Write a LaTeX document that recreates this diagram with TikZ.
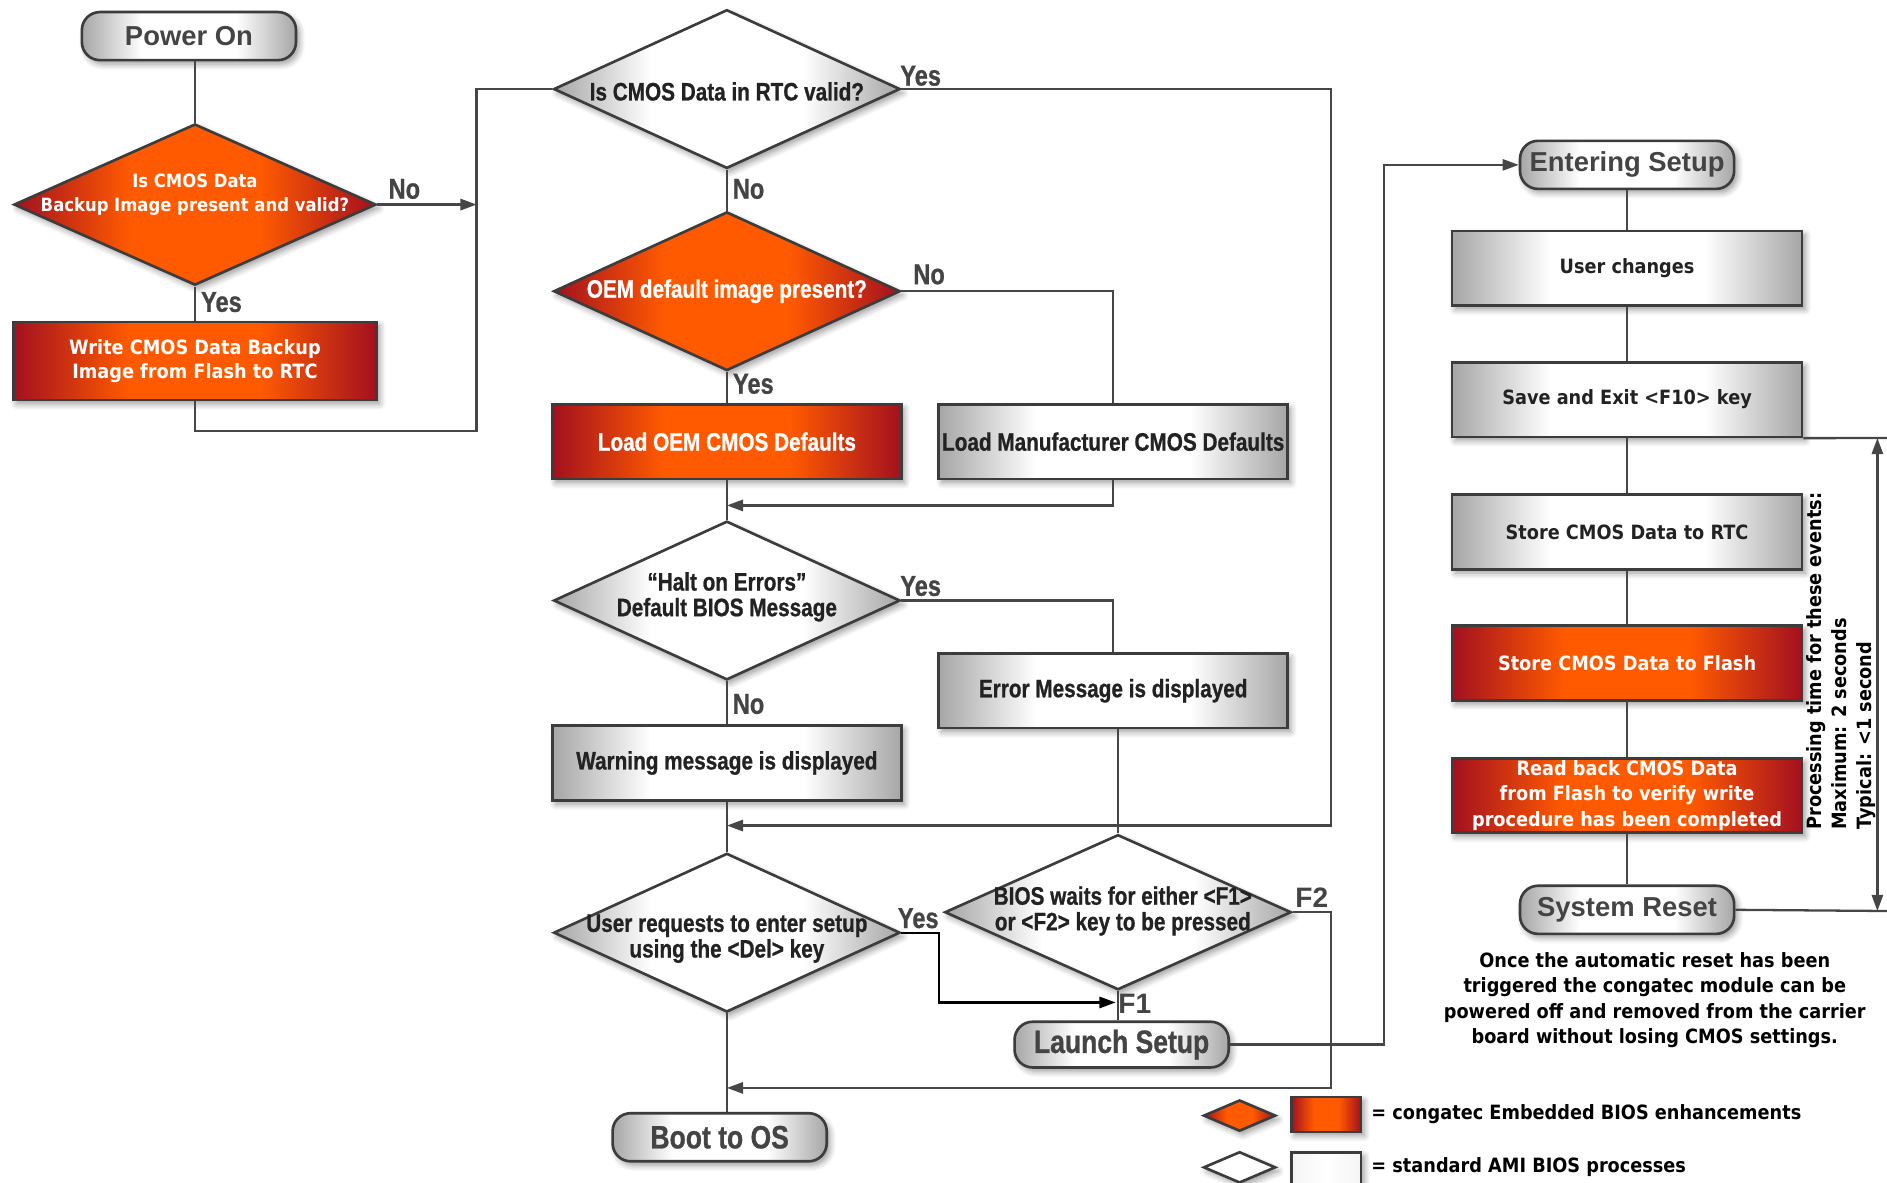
\documentclass[tikz,border=0pt]{standalone}
\usepackage{fontspec}
\newfontfamily\boxfont{DejaVu Sans}[FakeStretch=0.9]
\newfontfamily\narrowfont{Liberation Sans}[FakeStretch=0.82,FakeBold=0.8]
\newfontfamily\termfont{Liberation Sans}
\usetikzlibrary{shapes.geometric,shadows.blur,arrows.meta}
\definecolor{cmosred}{HTML}{A3101F}
\definecolor{cmosorange}{HTML}{FF5A00}
\definecolor{linegray}{HTML}{464646}
\definecolor{bordergray}{HTML}{3C3C3C}
\definecolor{boxgray}{HTML}{A6A6A6}
\definecolor{textgray}{HTML}{222222}
\definecolor{labgray}{HTML}{444444}
\pgfdeclarehorizontalshading{redglow}{100bp}{color(0bp)=(cmosred); color(25bp)=(cmosred);
  color(41bp)=(cmosorange); color(59bp)=(cmosorange); color(75bp)=(cmosred); color(100bp)=(cmosred)}
\pgfdeclarehorizontalshading{grayglow}{100bp}{color(0bp)=(boxgray); color(25bp)=(boxgray);
  color(39bp)=(white); color(61bp)=(white); color(75bp)=(boxgray); color(100bp)=(boxgray)}

\begin{document}
\begin{tikzpicture}[x=0.012034cm,y=-0.012034cm,
  shadowed/.style={blur shadow={shadow blur steps=6,shadow xshift=0.9pt,shadow yshift=-1.1pt,shadow opacity=40}},
  outline/.style={draw=bordergray,line width=0.75pt,shadowed},
  redbox/.style={outline,rectangle,shade,shading=redglow,text=white,align=center,inner sep=0pt},
  graybox/.style={outline,rectangle,shade,shading=grayglow,text=textgray,align=center,inner sep=0pt},
  reddia/.style={outline,diamond,inner sep=0pt,shade,shading=redglow},
  graydia/.style={outline,diamond,inner sep=0pt,shade,shading=grayglow},
  termbox/.style={outline,rectangle,rounded corners=0.18cm,shade,shading=grayglow,
    text=labgray,inner sep=0pt,minimum width=2.142cm,minimum height=0.481cm},
  midbox/.style={minimum width=3.49cm,minimum height=0.746cm,font=\narrowfont\bfseries\fontsize{7.2}{8.6}\selectfont},
  rightbox/.style={minimum width=3.502cm,minimum height=0.746cm,font=\boxfont\bfseries\fontsize{5.6}{7.2}\selectfont},
  middia/.style={minimum width=3.466cm,minimum height=1.588cm},
  midtxt/.style={align=center,inner sep=0pt,font=\narrowfont\bfseries\fontsize{7.2}{7.3}\selectfont},
  conn/.style={draw=linegray,line width=0.65pt},
  flow/.style={conn,-{Triangle[length=4.6pt,width=3.2pt]}},
  yn/.style={text=labgray,inner sep=0pt,font=\narrowfont\bfseries\fontsize{8.2}{9}\selectfont},
  fkey/.style={text=labgray,inner sep=0pt,font=\termfont\bfseries\fontsize{8}{9}\selectfont},
  plain/.style={text=textgray,inner sep=0pt,font=\boxfont\bfseries\fontsize{5.6}{7.2}\selectfont}]
  \useasboundingbox (0,0) rectangle (1568,983);

  % left column
  \node[termbox,font=\termfont\bfseries\fontsize{7.8}{9}\selectfont] (pw) at (157,30) {Power On};
  \node[reddia,minimum width=3.622cm,minimum height=1.613cm] (d1) at (162,170) {};
  \node[align=center,text=white,inner sep=0pt,font=\boxfont\bfseries\fontsize{5.2}{6.9}\selectfont]
    (t1) at (162,162) {Is CMOS Data\\Backup Image present and valid?};
  \node[redbox,minimum width=3.634cm,minimum height=0.782cm,font=\boxfont\bfseries\fontsize{5.6}{6.9}\selectfont]
    (wr) at (162,300) {Write CMOS Data Backup\\Image from Flash to RTC};

  % middle column
  \node[graydia,middia] (d2) at (604,74) {};
  \node[midtxt,text=textgray] (t2) at (604,76) {Is CMOS Data in RTC valid?};
  \node[reddia,middia] (d3) at (604,242) {};
  \node[midtxt,text=white] (t3) at (604,242) {OEM default image present?};
  \node[redbox,midbox] (oem) at (604,367) {Load OEM CMOS Defaults};
  \node[graybox,midbox] (man) at (925,367) {Load Manufacturer CMOS Defaults};
  \node[graydia,middia] (d4) at (604,499) {};
  \node[midtxt,text=textgray] (t4) at (604,496) {“Halt on Errors”\\Default BIOS Message};
  \node[graybox,midbox] (err) at (925,574) {Error Message is displayed};
  \node[graybox,midbox] (warn) at (604,634) {Warning message is displayed};
  \node[graydia,middia] (d5) at (604,775) {};
  \node[midtxt,text=textgray] (t5) at (604,780) {User requests to enter setup\\using the <Del> key};
  \node[graydia,minimum width=3.466cm,minimum height=1.552cm] (d6) at (929,758) {};
  \node[midtxt,text=textgray] (t6) at (933,757) {BIOS waits for either <F1>\\or <F2> key to be pressed};
  \node[termbox,font=\narrowfont\bfseries\fontsize{9.2}{10}\selectfont,minimum height=0.457cm] (ls) at (932,868) {Launch Setup};
  \node[termbox,font=\narrowfont\bfseries\fontsize{9.2}{10}\selectfont] (boot) at (598,945) {Boot to OS};

  % right column
  \node[termbox,font=\termfont\bfseries\fontsize{7.8}{9}\selectfont] (es) at (1352,137) {Entering Setup};
  \node[graybox,rightbox] (uc) at (1352,223) {User changes};
  \node[graybox,rightbox] (se) at (1352,332) {Save and Exit <F10> key};
  \node[graybox,rightbox] (sr) at (1352,442) {Store CMOS Data to RTC};
  \node[redbox,rightbox] (sf) at (1352,551) {Store CMOS Data to Flash};
  \node[redbox,rightbox] (rb) at (1352,661) {Read back CMOS Data\\from Flash to verify write\\procedure has been completed};
  \node[termbox,font=\termfont\bfseries\fontsize{7.8}{9}\selectfont] (rs) at (1352,756) {System Reset};
  \node[plain,rotate=90,anchor=west,align=left,text=black] (ptime) at (1530,690)
    {Processing time for these events:\\Maximum: 2 seconds\\Typical: <1 second};
  \node[plain,align=center,text=black] (note) at (1375,831)
    {Once the automatic reset has been\\triggered the congatec module can be\\powered off and removed from the carrier\\board without losing CMOS settings.};

  % legend
  \node[reddia,minimum width=0.722cm,minimum height=0.313cm] (ld1) at (1030,927) {};
  \node[redbox,minimum width=0.698cm,minimum height=0.349cm] (lr1) at (1102,926) {};
  \node[plain,anchor=west,text=black] (lt1) at (1139,926) {= congatec Embedded BIOS enhancements};
  \node[outline,diamond,fill=white,inner sep=0pt,minimum width=0.722cm,minimum height=0.313cm] (ld2) at (1030,970) {};
  \node[outline,rectangle,left color=white!88!boxgray,right color=white!88!boxgray,middle color=white,
    inner sep=0pt,minimum width=0.698cm,minimum height=0.349cm] (lr2) at (1102,972) {};
  \node[plain,anchor=west,text=black] (lt2) at (1139,970) {= standard AMI BIOS processes};

  % branch labels
  \node[yn] (n1) at (336,157) {No};
  \node[yn] (y1) at (184,251) {Yes};
  \node[yn] (y2) at (765,63) {Yes};
  \node[yn] (n2) at (622,157) {No};
  \node[yn] (n3) at (772,228) {No};
  \node[yn] (y3) at (626,319) {Yes};
  \node[yn] (y4) at (765,487) {Yes};
  \node[yn] (n4) at (622,585) {No};
  \node[yn] (y5) at (763,763) {Yes};
  \node[fkey] (f2) at (1090,746) {F2};
  \node[fkey] (f1) at (943,834) {F1};

  % connector points
  \coordinate (nojoin) at (396,170);
  \coordinate (lowleft) at (396,358);
  \coordinate (rtcyes) at (1106,686);
  \coordinate (m1) at (604,420);
  \coordinate (m2) at (604,686);
  \coordinate (m3) at (604,904);
  \coordinate (f2down) at (1106,904);
  \coordinate (delyes) at (780,833);
  \coordinate (f1join) at (927,833);
  \coordinate (setupup) at (1150,137);
  \coordinate (dimtop) at (1568,364);
  \coordinate (dimbot) at (1568,757);
  \coordinate (arrtop) at (1560,364);
  \coordinate (arrbot) at (1560,757);

  % connectors, left
  \draw[conn] (d1.north |- pw.south) -- (d1.north);
  \draw[conn] (d1.south) -- (wr.north);
  \draw[flow] (d1.east) -- (nojoin);
  \draw[conn] (wr.south) |- (lowleft) |- (d2.west);

  % connectors, middle
  \draw[conn] (d2.south) -- (d3.north);
  \draw[flow] (d2.east) -| (rtcyes) -- (m2);
  \draw[conn] (d3.south) -- (oem.north);
  \draw[conn] (d3.east) -| (man.north);
  \draw[conn] (oem.south) -- (d4.north);
  \draw[flow] (man.south) |- (m1);
  \draw[conn] (d4.south) -- (warn.north);
  \draw[conn] (d4.east) -| (err.north);
  \draw[conn] (warn.south) -- (d5.north);
  \draw[conn] (err.south -| d6.north) -- (d6.north);
  \draw[flow,draw=black] (d5.east) -| (delyes) -- (f1join);
  \draw[conn] (d6.south) -- (d6.south |- ls.north);
  \draw[flow] (d6.east) -| (f2down) -- (m3);
  \draw[conn] (d5.south) -- (d5.south |- boot.north);
  \draw[flow] (ls.east) -| (setupup) -- (es.west);

  % connectors, right
  \draw[conn] (es.south) -- (uc.north);
  \draw[conn] (uc.south) -- (se.north);
  \draw[conn] (se.south) -- (sr.north);
  \draw[conn] (sr.south) -- (sf.north);
  \draw[conn] (sf.south) -- (rb.north);
  \draw[conn] (rb.south) -- (rs.north);
  \draw[conn] (se.south east) -- (dimtop);
  \draw[conn] (rs.east) -- (dimbot);
  \draw[conn,{Triangle[length=4.6pt,width=3.2pt]}-{Triangle[length=4.6pt,width=3.2pt]}] (arrtop) -- (arrbot);
\end{tikzpicture}
\end{document}
